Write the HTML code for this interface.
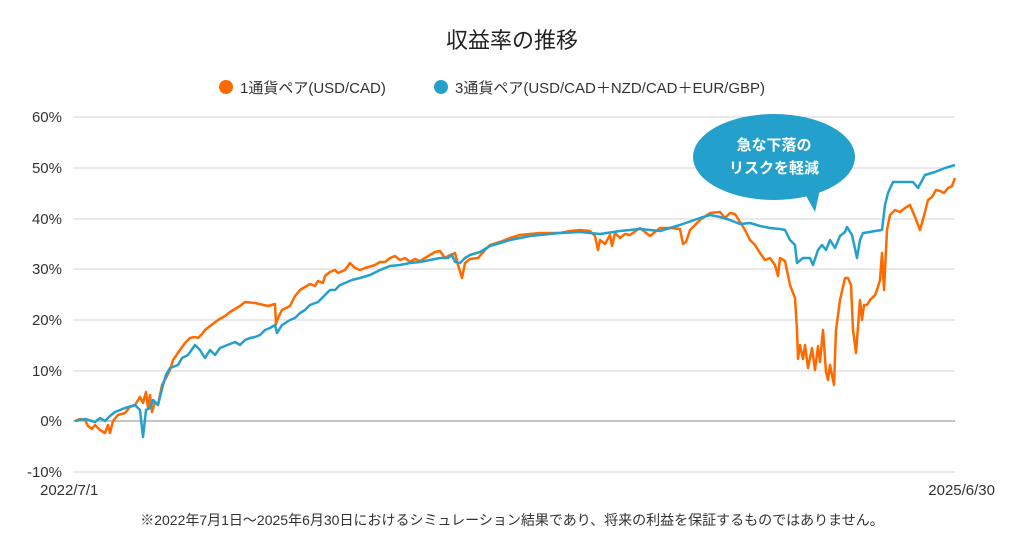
<!DOCTYPE html>
<html><head><meta charset="utf-8"><style>
body{margin:0;background:#fff;width:1024px;height:549px;overflow:hidden;font-family:"Liberation Sans","Noto Sans CJK JP",sans-serif;}
</style></head><body>
<svg width="1024" height="549" xmlns="http://www.w3.org/2000/svg" font-family="Liberation Sans, Noto Sans CJK JP, sans-serif">
<text x="512" y="48" font-size="22" text-anchor="middle" fill="#222">収益率の推移</text>
<circle cx="226" cy="87" r="7" fill="#ff6a00"/>
<text x="240" y="93" font-size="15" fill="#333">1通貨ペア(USD/CAD)</text>
<circle cx="441" cy="87" r="7" fill="#24a0cc"/>
<text x="455" y="93" font-size="15" fill="#333">3通貨ペア(USD/CAD＋NZD/CAD＋EUR/GBP)</text>
<g stroke="#d4d4d4" stroke-width="1">
<line x1="73" x2="955" y1="117" y2="117"/><line x1="73" x2="955" y1="168" y2="168"/>
<line x1="73" x2="955" y1="219" y2="219"/><line x1="73" x2="955" y1="269" y2="269"/>
<line x1="73" x2="955" y1="320" y2="320"/><line x1="73" x2="955" y1="371" y2="371"/>
<line x1="73" x2="955" y1="472" y2="472"/>
</g>
<line x1="73" x2="955" y1="421" y2="421" stroke="#888" stroke-width="1"/>
<g font-size="15" fill="#333" text-anchor="end">
<text x="62" y="122">60%</text><text x="62" y="173">50%</text><text x="62" y="224">40%</text>
<text x="62" y="274">30%</text><text x="62" y="325">20%</text><text x="62" y="376">10%</text>
<text x="62" y="426">0%</text><text x="62" y="477">-10%</text>
</g>
<text x="40" y="495" font-size="15" fill="#333">2022/7/1</text>
<text x="995" y="495" font-size="15" fill="#333" text-anchor="end">2025/6/30</text>
<polyline fill="none" stroke="#ff6a00" stroke-width="2.5" stroke-linejoin="round" points="75,421 80,419 85,420 88,426 92,429 95,425 100,430 105,433 108,425 110,433 113,421 118,415 125,413 130,407 135,405 140,397 143,403 146,392 148,408 150,395 152,412 155,402 158,405 162,385 166,378 170,370 173,360 180,350 185,343 190,338 195,337 198,338 202,334 205,330 210,326 218,320 225,316 230,312 240,306 245,302 255,303 268,306 275,304 276,324 278,318 282,310 290,306 295,296 300,290 310,284 315,286 318,281 323,283 325,276 330,272 335,270 338,273 345,270 350,263 355,268 360,270 365,268 375,265 380,262 385,262 390,258 395,256 400,260 405,258 410,262 415,259 420,261 425,258 430,255 435,252 440,251 445,258 450,255 455,253 458,265 462,278 465,263 470,259 478,258 485,250 490,245 500,242 510,238 520,235 530,234 540,233 560,233 570,231 580,230 590,231 595,236 598,250 600,240 605,244 610,235 612,246 615,233 620,238 625,234 630,235 640,228 650,236 660,228 670,228 680,229 683,244 686,242 690,230 700,220 710,213 720,212 725,218 730,213 735,214 740,222 745,230 750,240 755,245 760,253 765,260 770,258 775,265 778,276 780,258 785,261 790,285 795,298 797,330 798,359 800,345 803,359 805,345 808,368 812,348 815,370 818,346 820,362 823,330 826,372 828,380 830,365 834,385 836,330 840,300 845,278 848,278 851,285 853,330 856,353 860,300 862,320 864,305 867,305 870,300 875,295 877,290 880,280 882,253 884,290 887,230 890,215 895,210 900,212 905,208 910,205 915,217 920,230 925,212 928,200 932,197 936,190 940,191 944,193 948,188 952,186 955,178"/>
<polyline fill="none" stroke="#24a0cc" stroke-width="2.5" stroke-linejoin="round" points="75,421 85,419 95,422 100,418 105,421 110,416 115,412 125,408 135,405 140,410 143,437 146,410 150,408 153,400 158,405 163,385 166,375 170,368 178,365 182,358 188,355 195,345 200,350 205,358 210,350 215,355 220,348 225,346 235,342 240,345 245,340 250,338 255,337 260,335 265,330 270,328 275,325 277,333 282,325 290,320 295,318 300,313 305,310 310,305 318,302 325,295 330,290 335,290 340,285 345,283 352,280 360,278 370,275 380,270 390,266 400,265 410,263 420,262 430,260 440,258 448,258 452,255 455,262 460,263 465,258 470,255 480,252 490,246 500,243 510,240 520,238 530,236 540,235 560,233 580,232 600,234 620,231 640,229 660,231 680,225 700,218 710,215 720,217 730,220 740,224 750,223 760,226 770,228 780,229 785,230 790,240 795,245 797,263 803,258 810,258 813,265 818,250 822,245 826,250 830,240 835,248 840,236 845,232 847,227 852,235 857,258 860,240 863,233 870,232 875,231 882,230 885,205 888,193 893,182 900,182 913,182 918,188 925,175 935,172 945,168 955,165"/>
<ellipse cx="774" cy="157" rx="81" ry="43" fill="#24a0cc"/>
<polygon points="800,185 822,180 815,212" fill="#24a0cc"/>
<text x="774" y="150" font-size="15" font-weight="bold" fill="#fff" text-anchor="middle">急な下落の</text>
<text x="774" y="173" font-size="15" font-weight="bold" fill="#fff" text-anchor="middle">リスクを軽減</text>
<text x="512" y="525" font-size="14" fill="#333" text-anchor="middle">※2022年7月1日〜2025年6月30日におけるシミュレーション結果であり、将来の利益を保証するものではありません。</text>
</svg>
</body></html>
